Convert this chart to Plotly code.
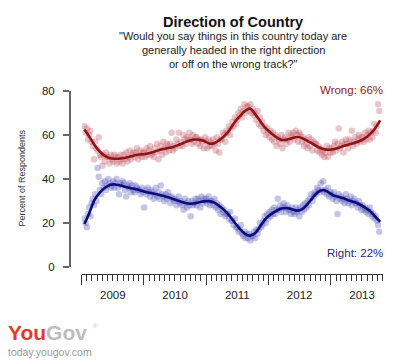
import pandas as pd
import plotly.graph_objects as go

# ---- weekly poll results (percent), grouped by year ----
wrong_2009 = [64, 61, 63, 58, 60, 62, 57, 55, 49, 57, 54, 53, 59, 51, 50,
              46, 51, 48, 52, 50, 50, 47, 51, 49, 48, 51, 50, 47, 50, 48, 51, 49, 47,
              51, 49, 52, 48, 50, 53, 49, 51, 52, 50, 52, 54, 49, 51, 53, 50, 52]
wrong_2010 = [52, 50, 54, 51, 53, 55, 51, 52, 50, 54, 52, 56, 49, 53, 55, 51, 57,
              54, 52, 56, 55, 53, 56, 61, 53, 55, 54, 58, 56, 61, 55, 57, 55, 60, 58,
              56, 59, 58, 61, 58, 56, 60, 57, 59, 59, 56, 58, 55, 58, 57, 54, 59]
wrong_2011 = [57, 54, 58, 55, 57, 55, 58, 56, 53, 59, 56, 52, 58, 58, 61, 60, 57, 62,
              61, 64, 60, 63, 66, 64, 68, 65, 67, 70, 69, 72, 68, 71, 74, 70, 73,
              73, 71, 74, 70, 72, 69, 70, 67, 71, 65, 68, 64, 66, 62, 64, 60, 63, 61]
wrong_2012 = [59, 62, 58, 61, 57, 60, 55, 59, 58, 56, 60, 54, 58, 59, 56, 58, 61,
              57, 60, 59, 61, 58, 62, 60, 57, 61, 60, 57, 59, 55, 58, 56, 54, 59,
              55, 58, 53, 57, 56, 56, 53, 55, 52, 54, 51, 53, 50, 52, 55, 50, 54, 52]
wrong_2013 = [54, 52, 55, 57, 53, 56, 63, 54, 55, 57, 52, 56, 58, 56, 54, 58, 57,
              62, 55, 57, 59, 56, 58, 60, 57, 59, 59, 57, 61, 58, 60, 62, 58, 61, 59,
              62, 65, 61, 64, 74, 71]

right_2009 = [22, 20, 18, 24, 27, 23, 29, 31, 28, 33, 30, 45, 41, 35, 33,
              38, 36, 39, 35, 37, 40, 38, 36, 37, 39, 36, 38, 40, 36, 33, 38, 37, 39,
              38, 35, 32, 37, 36, 38, 34, 37, 35, 34, 37, 36, 35, 35, 33, 36, 34]
right_2010 = [27, 35, 33, 36, 34, 32, 35, 34, 31, 33, 36, 32, 34, 31, 37, 33, 32,
              30, 33, 31, 34, 32, 29, 32, 31, 30, 31, 28, 30, 32, 29, 30, 28, 26, 31,
              29, 27, 30, 28, 23, 30, 28, 29, 31, 28, 31, 30, 27, 32, 29, 31, 30]
right_2011 = [31, 29, 32, 28, 30, 30, 28, 31, 27, 29, 26, 28, 24, 27, 25, 26, 23, 24,
              24, 22, 25, 21, 21, 19, 22, 18, 18, 16, 17, 19, 15, 14, 16, 13, 15,
              13, 15, 12, 14, 14, 16, 13, 17, 15, 17, 20, 18, 19, 21, 23, 20, 24, 22]
right_2012 = [25, 23, 26, 24, 27, 24, 26, 31, 26, 28, 25, 27, 29, 27, 25, 28, 26,
              26, 24, 27, 25, 24, 27, 25, 26, 23, 27, 25, 28, 26, 29, 27, 30, 28,
              31, 33, 30, 32, 34, 33, 36, 35, 34, 38, 35, 39, 34, 35, 33, 36, 32, 34]
right_2013 = [33, 31, 34, 32, 30, 24, 33, 31, 32, 30, 31, 29, 33, 31, 29, 30, 32,
              28, 30, 31, 29, 29, 27, 30, 28, 26, 28, 26, 27, 25, 26, 24, 27, 25, 23,
              24, 22, 23, 21, 19, 16]

wrong = wrong_2009 + wrong_2010 + wrong_2011 + wrong_2012 + wrong_2013
right = right_2009 + right_2010 + right_2011 + right_2012 + right_2013
poll_dates = pd.date_range("2009-01-17", periods=len(wrong), freq="7D")

# ---- smoothed trend, monthly (Jan 2009 .. Oct 2013) ----
wrong_trend = [62.5, 59, 55.5, 52.5, 50.5, 49.4, 49.2, 49.3, 49.7, 50.3, 50.9, 51.2,
               51.5, 52, 52.8, 53.5, 54, 54.5, 55.3, 56.3, 57.3, 57.9, 57.9, 57.4,
               56.2, 56.3, 57.6, 59.5, 62.2, 65.8, 68.5, 71, 72, 69.3, 66, 63,
               60.8, 59, 57.8, 57.9, 58.5, 59.1, 58.6, 57.3, 56, 54.6, 53.7, 53.3,
               53.5, 54.2, 55, 55.7, 56.4, 57.2, 58.4, 60.3, 63, 66.7]
right_trend = [19.5, 25, 30.5, 33.8, 36, 37.4, 37.5, 37, 36.3, 35.8, 35.3, 34.6,
               34, 33.5, 33, 32.5, 31.8, 31, 30.2, 29.4, 28.8, 28.8, 29.3, 29.8,
               29.9, 29.2, 27.8, 25.8, 23.3, 20.2, 17.3, 15, 14.2, 15.5, 18.8, 22,
               24, 25.5, 26.5, 26.8, 26.2, 25.6, 26.3, 28.5, 31.5, 34, 35, 34,
               32.5, 31.8, 31.2, 30.2, 29.5, 28.5, 27.2, 25.5, 23, 20.5]
trend_dates = pd.date_range("2009-01-01", periods=len(wrong_trend), freq="MS") + pd.Timedelta(days=16)

y_ticks = [0, 20, 40, 60, 80]

FONT = "Liberation Sans, Arial, Helvetica, sans-serif"
W, H = 420, 361
px = lambda x: x / W
# pixel row (from top) -> paper fraction, compensating the observed vertical mapping
py = lambda y: (H - (y - 6.2) / 0.963) / H

fig = go.Figure()
fig.add_trace(go.Scatter(x=poll_dates, y=right, mode="markers",
                         marker=dict(size=6.5, color="rgba(80,80,185,0.33)", line=dict(width=0)),
                         hoverinfo="skip"))
fig.add_trace(go.Scatter(x=poll_dates, y=wrong, mode="markers",
                         marker=dict(size=6.5, color="rgba(190,80,95,0.33)", line=dict(width=0)),
                         hoverinfo="skip"))
fig.add_trace(go.Scatter(x=trend_dates, y=right_trend, mode="lines",
                         line=dict(color="#0B0B7A", width=2.6, shape="spline"), hoverinfo="skip"))
fig.add_trace(go.Scatter(x=trend_dates, y=wrong_trend, mode="lines",
                         line=dict(color="#8E1515", width=2.6, shape="spline"), hoverinfo="skip"))

fig.update_layout(
    width=W, height=H, showlegend=False,
    paper_bgcolor="white", plot_bgcolor="white",
    margin=dict(l=0, r=0, t=0, b=0),
    font=dict(family=FONT, color="#222"),
    xaxis=dict(
        type="date", domain=[px(81.7), px(382.7)],
        range=["2009-01-01", "2013-11-01"],
        anchor="free", position=py(273),
        showgrid=False, zeroline=False,
        showline=True, linecolor="#333", linewidth=1.3,
        ticks="outside", ticklen=10, tickwidth=1.3, tickcolor="#333",
        tick0="2009-01-01", dtick="M12", tickformat="%Y", ticklabelmode="period",
        tickfont=dict(size=11.5, color="#222"),
        minor=dict(ticks="outside", dtick="M1", ticklen=6, tickwidth=1, tickcolor="#333", showgrid=False),
    ),
    yaxis=dict(
        domain=[py(266), py(91)], range=[0, 80],
        anchor="free", position=px(70),
        showgrid=False, zeroline=False,
        showline=True, linecolor="#666", linewidth=2,
        ticks="outside", ticklen=6, tickwidth=2, tickcolor="#666",
        tickvals=y_ticks, ticktext=[str(v) for v in y_ticks],
        ticklabelstandoff=6,
        tickfont=dict(size=11.5, color="#222"),
    ),
)

def ann(text, x, y, size, color="#222", xanchor="center", yanchor="middle", angle=0):
    fig.add_annotation(text=text, x=px(x), y=py(y), xref="paper", yref="paper",
                       showarrow=False, xanchor=xanchor, yanchor=yanchor, textangle=angle,
                       font=dict(size=size, color=color, family=FONT))

ann("<b>Direction of Country</b>", 233, 22, 14.5, "#111")
ann('"Would you say things in this country today are', 233, 36.5, 11, "#222")
ann("generally headed in the right direction", 233, 50, 11, "#222")
ann('or off on the wrong track?"', 233, 63.5, 11, "#222")
ann("Percent of Respondents", 22, 178, 9, "#333", angle=-90)
ann("Wrong: 66%", 385, 90, 11.5, "#8E1B1B", xanchor="right")
ann("Right: 22%", 385, 252, 11.5, "#2A2A85", xanchor="right")
ann("<b><span style='color:#E0392F'>You</span><span style='color:#BDBDBD'>Gov</span></b>",
    6, 331, 21, xanchor="left")
ann("®", 91, 325, 6, "#BDBDBD", xanchor="left")
ann("today.yougov.com", 6, 351, 10.5, "#9A9A9A", xanchor="left")

fig.write_html(
    "out.html",
    config={"displayModeBar": False},
    post_script="document.body.style.margin='0';document.body.style.padding='0';"
                "document.documentElement.style.overflow='hidden';",
)
